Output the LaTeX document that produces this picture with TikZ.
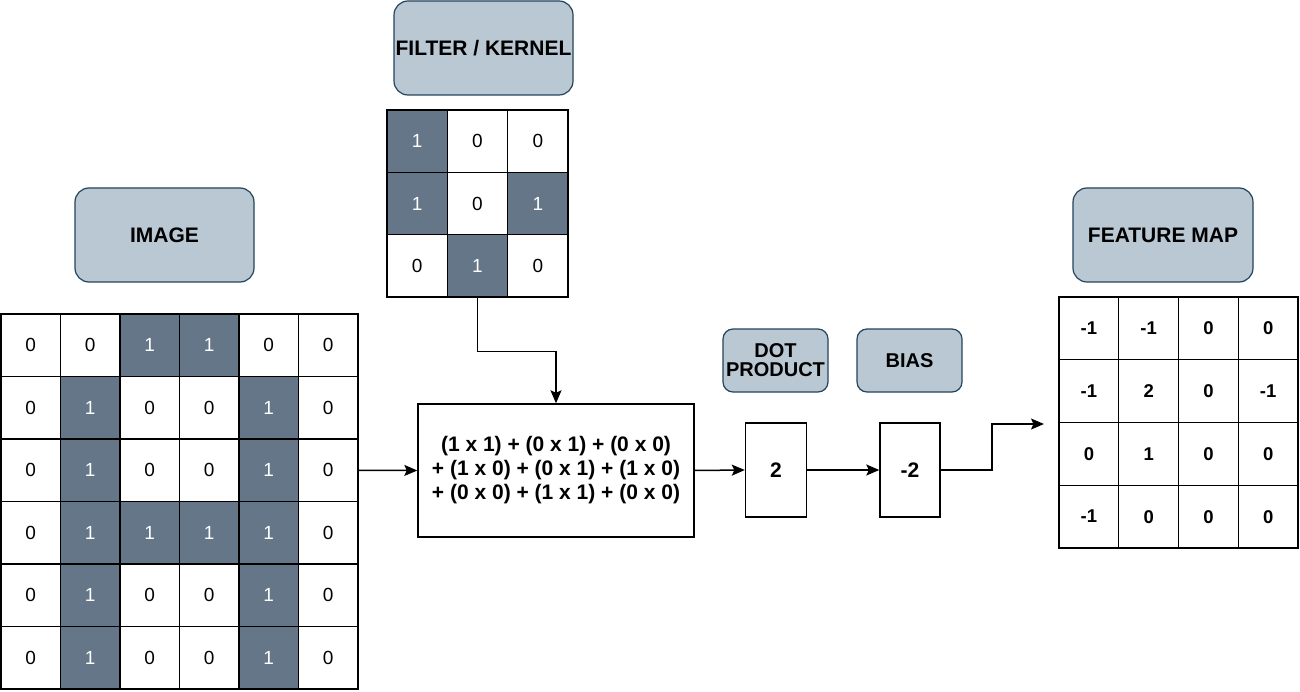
\documentclass[tikz,border=0pt]{standalone}
\usepackage{fontspec}
\setmainfont{Liberation Sans}
\usetikzlibrary{arrows.meta}
\definecolor{darkcell}{HTML}{647687}
\definecolor{lblfill}{HTML}{BAC8D3}
\definecolor{lbldraw}{HTML}{23445D}
\begin{document}
\begin{tikzpicture}[x=1pt,y=-1pt,
  gridcell/.style={draw=black,line width=1.4pt,inner sep=0pt,font=\fontsize{19}{21}\selectfont},
  imgcell/.style={gridcell,minimum width=59.5pt,minimum height=62.5pt},
  filtcell/.style={gridcell,minimum width=60.33pt,minimum height=62.33pt},
  fmcell/.style={gridcell,minimum width=59.75pt,minimum height=62.75pt,font=\bfseries\fontsize{18.5}{20}\selectfont},
  darkc/.style={fill=darkcell,text=white},
  lightc/.style={fill=white,text=black},
  lbl/.style={draw=lbldraw,fill=lblfill,line width=1.2pt,rounded corners=14pt,inner sep=0pt,align=center,font=\bfseries\fontsize{21}{23}\selectfont},
  smalllbl/.style={lbl,rounded corners=10pt,font=\bfseries\fontsize{20}{21}\selectfont},
  opbox/.style={draw=black,fill=white,line width=1.4pt,inner sep=0pt,align=center,font=\bfseries\fontsize{21}{24}\selectfont},
  arr/.style={draw=black,line width=1.5pt,-{Stealth[length=13pt,width=11pt,inset=2.5pt]}}]
\useasboundingbox (0,0) rectangle (1300,692);
\fill[white] (0,0) rectangle (1300,692);

% labels
\node[lbl,minimum width=179pt,minimum height=94pt] (limage) at (164.5,235) {IMAGE};
\node[lbl,minimum width=179pt,minimum height=94pt] (lfilter) at (483.5,48) {FILTER / KERNEL};
\node[lbl,minimum width=180pt,minimum height=94pt] (lfmap) at (1163,235) {FEATURE MAP};
\node[smalllbl,minimum width=105pt,minimum height=63pt] (ldot) at (775.5,360.5) {DOT\\[-2pt]PRODUCT};
\node[smalllbl,minimum width=105pt,minimum height=63pt] (lbias) at (909.5,360.5) {BIAS};

% image grid 6x6
\foreach \r/\row in {0/{0,0,1,1,0,0},1/{0,1,0,0,1,0},2/{0,1,0,0,1,0},3/{0,1,1,1,1,0},4/{0,1,0,0,1,0},5/{0,1,0,0,1,0}}{
  \foreach \v [count=\c from 0] in \row {
    \ifnum\v=1 \def\cs{darkc}\else\def\cs{lightc}\fi
    \node[imgcell,\cs] (i-\r-\c) at ({1+59.5*\c+29.75},{314+62.5*\r+31.25}) {\v};
  }
}

% filter grid 3x3
\foreach \r/\row in {0/{1,0,0},1/{1,0,1},2/{0,1,0}}{
  \foreach \v [count=\c from 0] in \row {
    \ifnum\v=1 \def\cs{darkc}\else\def\cs{lightc}\fi
    \node[filtcell,\cs] (f-\r-\c) at ({387+60.33*\c+30.17},{110+62.33*\r+31.17}) {\v};
  }
}

% feature map grid 4x4
\foreach \r/\row in {0/{-1,-1,0,0},1/{-1,2,0,-1},2/{0,1,0,0},3/{-1,0,0,0}}{
  \foreach \v [count=\c from 0] in \row {
    \node[fmcell,fill=white] (m-\r-\c) at ({1059+59.75*\c+29.88},{297+62.75*\r+31.38}) {\v};
  }
}

% operation boxes
\node[opbox,minimum width=276pt,minimum height=133pt] (conv) at (556,470.5)
  {(1 x 1) + (0 x 1) + (0 x 0)\\+ (1 x 0) + (0 x 1) + (1 x 0)\\+ (0 x 0) + (1 x 1) + (0 x 0)};
\node[opbox,minimum width=61pt,minimum height=94pt] (dot) at (776,470) {2};
\node[opbox,minimum width=60pt,minimum height=94pt] (bias) at (910,470) {-2};

\coordinate (bend) at (992,470);
\coordinate (fmin) at (1044,424);

% connectors
\draw[arr] (i-2-5.east) -- (conv.west);
\draw[arr] (f-2-1.south) -- ++(0,54) -| (conv.north);
\draw[arr] (conv.east) -- (dot.west);
\draw[arr] (dot.east) -- (bias.west);
\draw[arr] (bias.east) -- (bend) |- (fmin);
\end{tikzpicture}
\end{document}
